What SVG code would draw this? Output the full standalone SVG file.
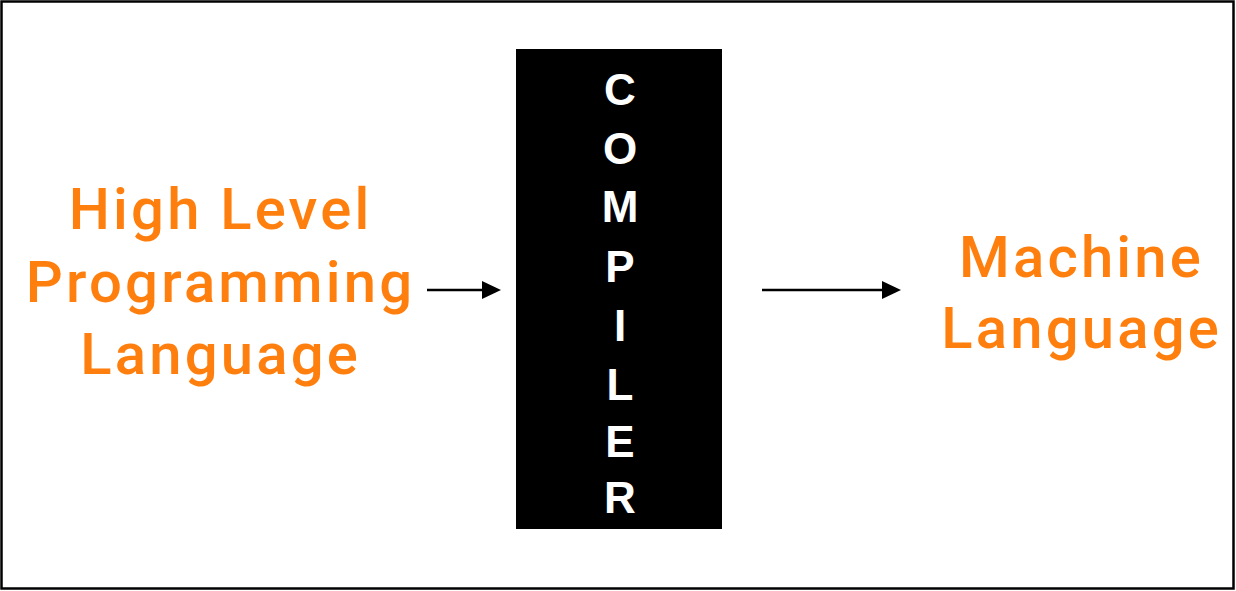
<svg xmlns="http://www.w3.org/2000/svg" width="1236" height="591" viewBox="0 0 1236 591">
<style>
.lbl{font-family:Roboto,"Liberation Sans",sans-serif;font-weight:500;font-size:58px;letter-spacing:3.2px;fill:#FF7F0E;text-anchor:middle}
.cl{font-family:"Liberation Sans",Arial,sans-serif;font-weight:bold;font-size:44px;fill:#fff;text-anchor:middle}
.edge{stroke:#000;stroke-width:2.5;fill:none}
</style>
<defs>
<marker id="ah" markerWidth="10" markerHeight="10" refX="0" refY="5" orient="auto" markerUnits="userSpaceOnUse" viewBox="0 0 10 10" overflow="visible">
<path d="M0,-4 L19,5 L0,14 Z" fill="#000"/>
</marker>
</defs>
<rect x="1.5" y="1.5" width="1232" height="587" fill="#fff" stroke="#000" stroke-width="2.5"/>
<g id="source">
<text class="lbl" x="220.6" y="229">High Level</text>
<text class="lbl" x="220.6" y="302">Programming</text>
<text class="lbl" x="220.6" y="374">Language</text>
</g>
<g id="compiler">
<rect x="516" y="49" width="206" height="480" fill="#000"/>
<text class="cl" x="620" y="105">C</text>
<text class="cl" x="620" y="164">O</text>
<text class="cl" x="620" y="222">M</text>
<text class="cl" x="620" y="282">P</text>
<text class="cl" x="620" y="341">I</text>
<text class="cl" x="620" y="400">L</text>
<text class="cl" x="620" y="457">E</text>
<text class="cl" x="620" y="513">R</text>
</g>
<g id="target">
<text class="lbl" x="1081.6" y="277">Machine</text>
<text class="lbl" x="1081.6" y="348">Language</text>
</g>
<g id="connectors">
<path class="edge" d="M427,290 H482" marker-end="url(#ah)"/>
<path class="edge" d="M762,290 H882" marker-end="url(#ah)"/>
</g>
</svg>
